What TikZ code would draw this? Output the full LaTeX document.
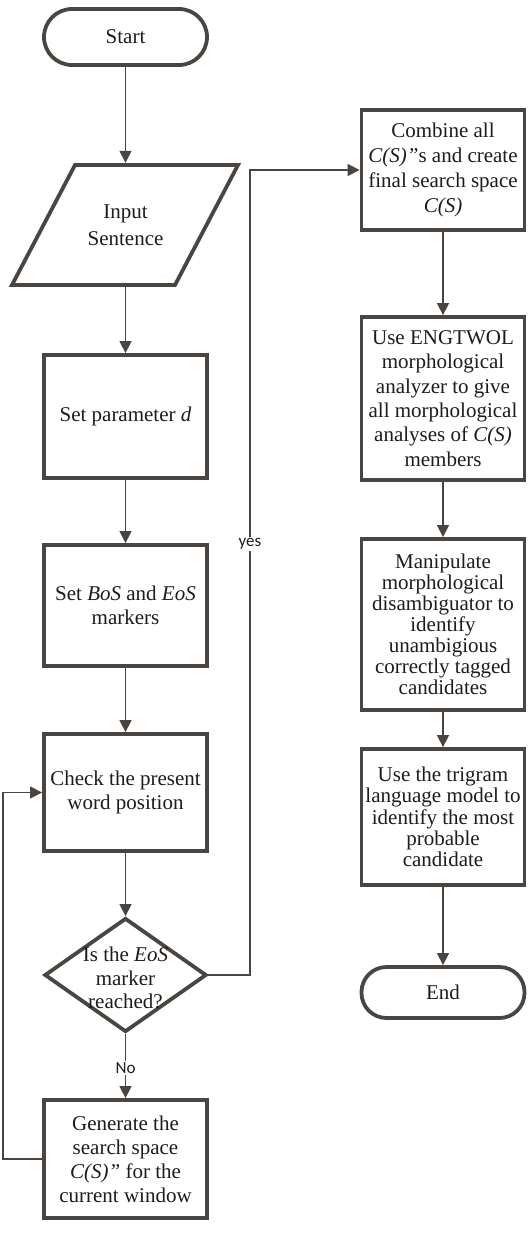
\documentclass[tikz,border=0pt]{standalone}
\usepackage{fontspec}
\setmainfont{Liberation Serif}
\newfontfamily\boxfont{Liberation Serif}
\newfontfamily\lblfont{Carlito}
\usetikzlibrary{arrows.meta,shapes.geometric,calc}
\definecolor{ink}{HTML}{4A4541}
\definecolor{txt}{HTML}{1E1B19}
\begin{document}
\begin{tikzpicture}[x=1pt,y=-1pt,
  box/.style={draw=ink, line width=3.8pt, rectangle, minimum width=163pt, inner sep=0pt, align=center, text=txt, font=\boxfont\fontsize{21}{24}\selectfont},
  term/.style={box, rounded corners=28pt},
  conn/.style={draw=ink, line width=1.4pt, -{Triangle[width=12pt,length=12pt]}},
  lbl/.style={fill=white, inner sep=1.5pt, text=txt, font=\lblfont\fontsize{17}{19}\selectfont}]
\useasboundingbox (0,0) rectangle (530,1238);

% left column
\node[term, minimum height=56pt] (start) at (125.5,37) {Start};
\node[minimum width=167pt, minimum height=124pt, inner sep=0pt, align=center, text=txt, font=\boxfont\fontsize{21}{27}\selectfont] (input) at (125.5,225) {Input\\Sentence};
\draw[draw=ink, line width=3.8pt, line join=miter] (75,165) -- (238,165) -- (175,285) -- (12,285) -- cycle;
\node[box, minimum height=123pt] (setd) at (125.5,416.5) {Set parameter \textit{d}};
\node[box, minimum height=121pt] (bos) at (125.5,605.5) {Set \textit{BoS} and \textit{EoS}\\markers};
\node[box, minimum height=117pt] (check) at (125.5,792.5) {Check the present\\word position};
\node[diamond, draw=ink, line width=3.8pt, minimum width=162pt, minimum height=114pt, inner sep=0pt] (dec) at (125.5,975) {};
\node[align=center, text=txt, font=\boxfont\fontsize{21}{23.5}\selectfont] (dectext) at (125.5,978) {Is the \textit{EoS}\\marker\\reached?};
\node[box, minimum height=118pt] (gen) at (125.5,1159) {Generate the\\search space\\\textit{C(S)”} for the\\current window};

% right column
\node[box, minimum height=120pt, font=\boxfont\fontsize{21}{25}\selectfont] (comb) at (443,170) {Combine all\\\textit{C(S)”}s and create\\final search space\\\textit{C(S)}};
\node[box, minimum height=163pt, font=\boxfont\fontsize{21}{24.3}\selectfont] (eng) at (443,398.5) {Use ENGTWOL\\morphological\\analyzer to give\\all morphological\\analyses of \textit{C(S)}\\members};
\node[box, minimum height=171pt, font=\boxfont\fontsize{21}{21}\selectfont] (manip) at (443,624.5) {Manipulate\\morphological\\disambiguator to\\identify\\unambigious\\correctly tagged\\candidates};
\node[box, minimum height=136pt, font=\boxfont\fontsize{21}{21.3}\selectfont] (tri) at (443,817) {Use the trigram\\language model to\\identify the most\\probable\\candidate};
\node[box, rounded corners=25pt, minimum height=51pt] (end) at (443,992.5) {End};

% connectors
\coordinate (lc) at (3,1159);
\coordinate (yc) at (250,975);
\draw[conn] (start) -- (input);
\draw[conn] (input) -- (setd);
\draw[conn] (setd) -- (bos);
\draw[conn] (bos) -- (check);
\draw[conn] (check) -- (dec);
\draw[conn] (dec) -- (gen);
\draw[conn] (gen.west) -- (lc) |- (check.west);
\draw[conn] (dec.east) -- (yc) |- (comb.west);
\draw[conn] (comb) -- (eng);
\draw[conn] (eng) -- (manip);
\draw[conn] (manip) -- (tri);
\draw[conn] (tri) -- (end);

\node[lbl] (nolbl) at (125.5,1068) {No};
\node[lbl] (yeslbl) at (250,544) {yes};
\end{tikzpicture}
\end{document}
